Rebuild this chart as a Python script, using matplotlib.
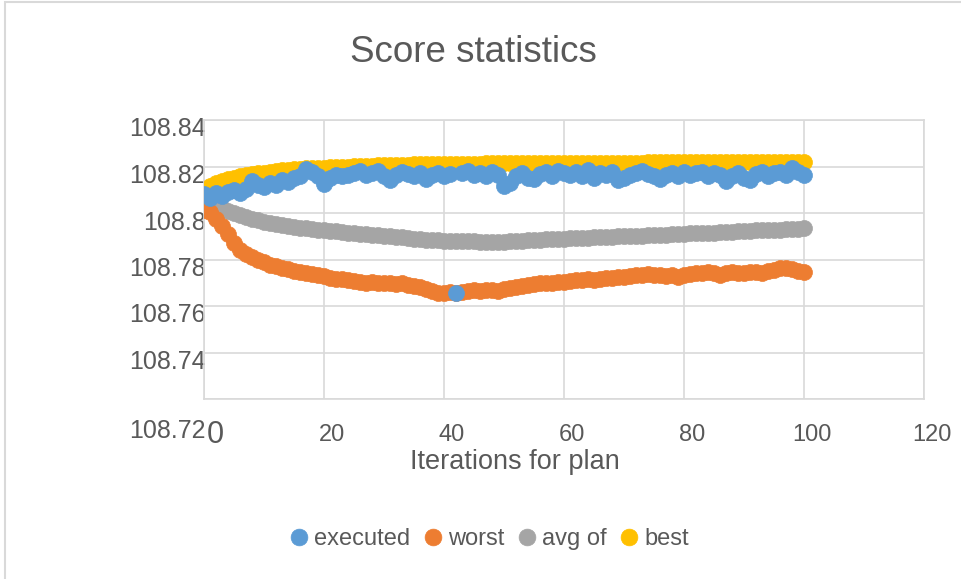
import matplotlib
matplotlib.use('Agg')
import matplotlib.pyplot as plt
from matplotlib import font_manager
from matplotlib.transforms import ScaledTranslation
from matplotlib.patches import Rectangle


iterations = list(range(101))

executed = [
    108.8080, 108.8065, 108.8085, 108.8075, 108.8090, 108.8100, 108.8085, 108.8105, 108.8138, 108.8120,
    108.8110, 108.8128, 108.8120, 108.8140, 108.8132, 108.8152, 108.8160, 108.8190, 108.8175, 108.8160,
    108.8125, 108.8150, 108.8165, 108.8158, 108.8162, 108.8170, 108.8180, 108.8165, 108.8172, 108.8182,
    108.8160, 108.8142, 108.8165, 108.8175, 108.8168, 108.8160, 108.8170, 108.8145, 108.8165, 108.8172,
    108.8160, 108.8168, 108.7655, 108.8170, 108.8180, 108.8165, 108.8172, 108.8160, 108.8175, 108.8165,
    108.8118, 108.8128, 108.8160, 108.8172, 108.8150, 108.8145, 108.8168, 108.8175, 108.8160, 108.8182,
    108.8170, 108.8165, 108.8178, 108.8160, 108.8183, 108.8150, 108.8170, 108.8165, 108.8175, 108.8142,
    108.8150, 108.8165, 108.8172, 108.8180, 108.8168, 108.8160, 108.8145, 108.8165, 108.8172, 108.8160,
    108.8175, 108.8165, 108.8170, 108.8178, 108.8160, 108.8170, 108.8165, 108.8138, 108.8160, 108.8172,
    108.8150, 108.8142, 108.8168, 108.8175, 108.8160, 108.8170, 108.8178, 108.8165, 108.8192, 108.8175,
    108.8165,
]

worst = [
    108.8012, 108.8005, 108.7975, 108.7945, 108.7910, 108.7870, 108.7840, 108.7825, 108.7812, 108.7800,
    108.7790, 108.7778, 108.7770, 108.7762, 108.7758, 108.7752, 108.7748, 108.7742, 108.7738, 108.7732,
    108.7728, 108.7722, 108.7718, 108.7714, 108.7712, 108.7708, 108.7705, 108.7700, 108.7702, 108.7698,
    108.7700, 108.7698, 108.7696, 108.7698, 108.7690, 108.7685, 108.7680, 108.7672, 108.7665, 108.7658,
    108.7655, 108.7660, 108.7658, 108.7662, 108.7665, 108.7668, 108.7665, 108.7670, 108.7668, 108.7665,
    108.7672, 108.7678, 108.7682, 108.7686, 108.7690, 108.7694, 108.7697, 108.7700, 108.7698, 108.7702,
    108.7705, 108.7708, 108.7710, 108.7712, 108.7715, 108.7712, 108.7718, 108.7722, 108.7720, 108.7724,
    108.7726, 108.7730, 108.7735, 108.7732, 108.7738, 108.7735, 108.7733, 108.7728, 108.7732, 108.7725,
    108.7735, 108.7738, 108.7742, 108.7740, 108.7745, 108.7740, 108.7735, 108.7742, 108.7746, 108.7740,
    108.7744, 108.7748, 108.7745, 108.7742, 108.7750, 108.7755, 108.7762, 108.7765, 108.7758, 108.7752,
    108.7745,
]

avg_of = [
    108.8065, 108.8050, 108.8035, 108.8022, 108.8010, 108.8000, 108.7990, 108.7982, 108.7975, 108.7968,
    108.7962, 108.7957, 108.7952, 108.7948, 108.7944, 108.7940, 108.7937, 108.7934, 108.7931, 108.7929,
    108.7927, 108.7924, 108.7921, 108.7918, 108.7916, 108.7913, 108.7911, 108.7909, 108.7906, 108.7904,
    108.7902, 108.7900, 108.7898, 108.7896, 108.7893, 108.7890, 108.7888, 108.7886, 108.7884, 108.7882,
    108.7880, 108.7879, 108.7878, 108.7879, 108.7880, 108.7878, 108.7877, 108.7876, 108.7876, 108.7877,
    108.7876, 108.7878, 108.7879, 108.7880, 108.7882, 108.7884, 108.7885, 108.7887, 108.7888, 108.7889,
    108.7890, 108.7891, 108.7892, 108.7893, 108.7894, 108.7895, 108.7896, 108.7897, 108.7898, 108.7899,
    108.7900, 108.7901, 108.7902, 108.7903, 108.7904, 108.7905, 108.7906, 108.7907, 108.7908, 108.7909,
    108.7910, 108.7912, 108.7913, 108.7914, 108.7915, 108.7916, 108.7918, 108.7919, 108.7920, 108.7921,
    108.7922, 108.7923, 108.7925, 108.7926, 108.7927, 108.7928, 108.7929, 108.7930, 108.7932, 108.7933,
    108.7934,
]

best = [
    108.8080, 108.8115, 108.8128, 108.8138, 108.8145, 108.8152, 108.8157, 108.8162, 108.8166, 108.8170,
    108.8174, 108.8177, 108.8180, 108.8183, 108.8186, 108.8188, 108.8190, 108.8192, 108.8193, 108.8194,
    108.8195, 108.8197, 108.8198, 108.8199, 108.8200, 108.8201, 108.8202, 108.8203, 108.8204, 108.8205,
    108.8206, 108.8207, 108.8207, 108.8208, 108.8208, 108.8209, 108.8209, 108.8210, 108.8210, 108.8210,
    108.8211, 108.8211, 108.8211, 108.8212, 108.8212, 108.8212, 108.8212, 108.8213, 108.8213, 108.8213,
    108.8213, 108.8214, 108.8214, 108.8214, 108.8214, 108.8214, 108.8215, 108.8215, 108.8215, 108.8215,
    108.8215, 108.8215, 108.8216, 108.8216, 108.8216, 108.8216, 108.8216, 108.8216, 108.8217, 108.8217,
    108.8213, 108.8217, 108.8217, 108.8217, 108.8218, 108.8218, 108.8218, 108.8218, 108.8218, 108.8219,
    108.8219, 108.8219, 108.8219, 108.8219, 108.8219, 108.8220, 108.8220, 108.8220, 108.8220, 108.8220,
    108.8220, 108.8220, 108.8221, 108.8221, 108.8221, 108.8221, 108.8221, 108.8221, 108.8221, 108.8220,
    108.8218,
]

series_names = ['executed', 'worst', 'avg of', 'best']
series_colors = ['#5B9BD5', '#ED7D31', '#A5A5A5', '#FFC000']

x_ticks = [0, 20, 40, 60, 80, 100, 120]
y_ticks = [108.72, 108.74, 108.76, 108.78, 108.8, 108.82, 108.84]
y_tick_labels = ['108.72', '108.74', '108.76', '108.78', '108.8', '108.82', '108.84']

TEXT = '#595959'
GRID = '#D9D9D9'

# narrow face for the value axis if the system has one
installed = {f.name for f in font_manager.fontManager.ttflist}
narrow = 'Liberation Sans Narrow' if 'Liberation Sans Narrow' in installed else 'Liberation Sans'
plt.rcParams['font.family'] = ['Liberation Sans', 'DejaVu Sans']

fig = plt.figure(figsize=(9.62, 5.79), dpi=100)
fig.patches.append(Rectangle((0.005, -0.01), 1.0, 1 - 0.004 + 0.01, transform=fig.transFigure,
                             fill=False, edgecolor=GRID, linewidth=1.5))

ax = fig.add_axes([204 / 962, 1 - 399 / 579, 720 / 962, 279 / 579])

# later series sit underneath, executed is drawn on top
all_series = [executed, worst, avg_of, best]
for i, (vals, name, col) in enumerate(zip(all_series, series_names, series_colors)):
    ax.plot(iterations, vals, linestyle='none', marker='o', markersize=11.5,
            markerfacecolor=col, markeredgecolor=col, markeredgewidth=0.5,
            label=name, zorder=10 - i)

ax.set_xlim(0, 120)
ax.set_ylim(108.72, 108.84)
ax.set_xticks(x_ticks)
ax.set_yticks(y_ticks)
ax.set_yticklabels(y_tick_labels)
ax.grid(True, color=GRID, linewidth=1.2)
ax.set_axisbelow(True)
for sp in ax.spines.values():
    sp.set_color(GRID)
    sp.set_linewidth(1.2)
ax.tick_params(length=0, colors=TEXT)
ax.tick_params(axis='x', labelsize=17, pad=18)
ax.tick_params(axis='y', labelsize=18, pad=-1)

for lbl in ax.get_yticklabels():
    lbl.set_fontfamily(narrow)
    lbl.set_transform(lbl.get_transform() + ScaledTranslation(0, -0.07, fig.dpi_scale_trans))
ax.get_yticklabels()[0].set_transform(
    ax.get_yticklabels()[0].get_transform() + ScaledTranslation(0, -0.22, fig.dpi_scale_trans))

xl = ax.get_xticklabels()
for lbl in xl:
    lbl.set_transform(lbl.get_transform() + ScaledTranslation(0.08, 0, fig.dpi_scale_trans))
xl[0].set_fontsize(22)
xl[0].set_transform(xl[0].get_transform() + ScaledTranslation(0.03, 0.04, fig.dpi_scale_trans))

ax.set_xlabel('Iterations for plan', fontsize=19.5, color=TEXT)
ax.xaxis.set_label_coords((515 - 204) / 720, (399 - 462) / 279)
ax.xaxis.label.set_va('center')

fig.text(473 / 962, 1 - 53 / 579, 'Score statistics', ha='center', va='center',
         fontsize=26.5, color=TEXT)

leg = fig.legend(loc='center', bbox_to_anchor=(490 / 962, 1 - 539 / 579), ncol=4,
                 frameon=False, fontsize=17, handlelength=0.7, handletextpad=0.3,
                 columnspacing=0.6, markerscale=1.05, labelcolor=TEXT)

fig.savefig('out.png', dpi=100)
